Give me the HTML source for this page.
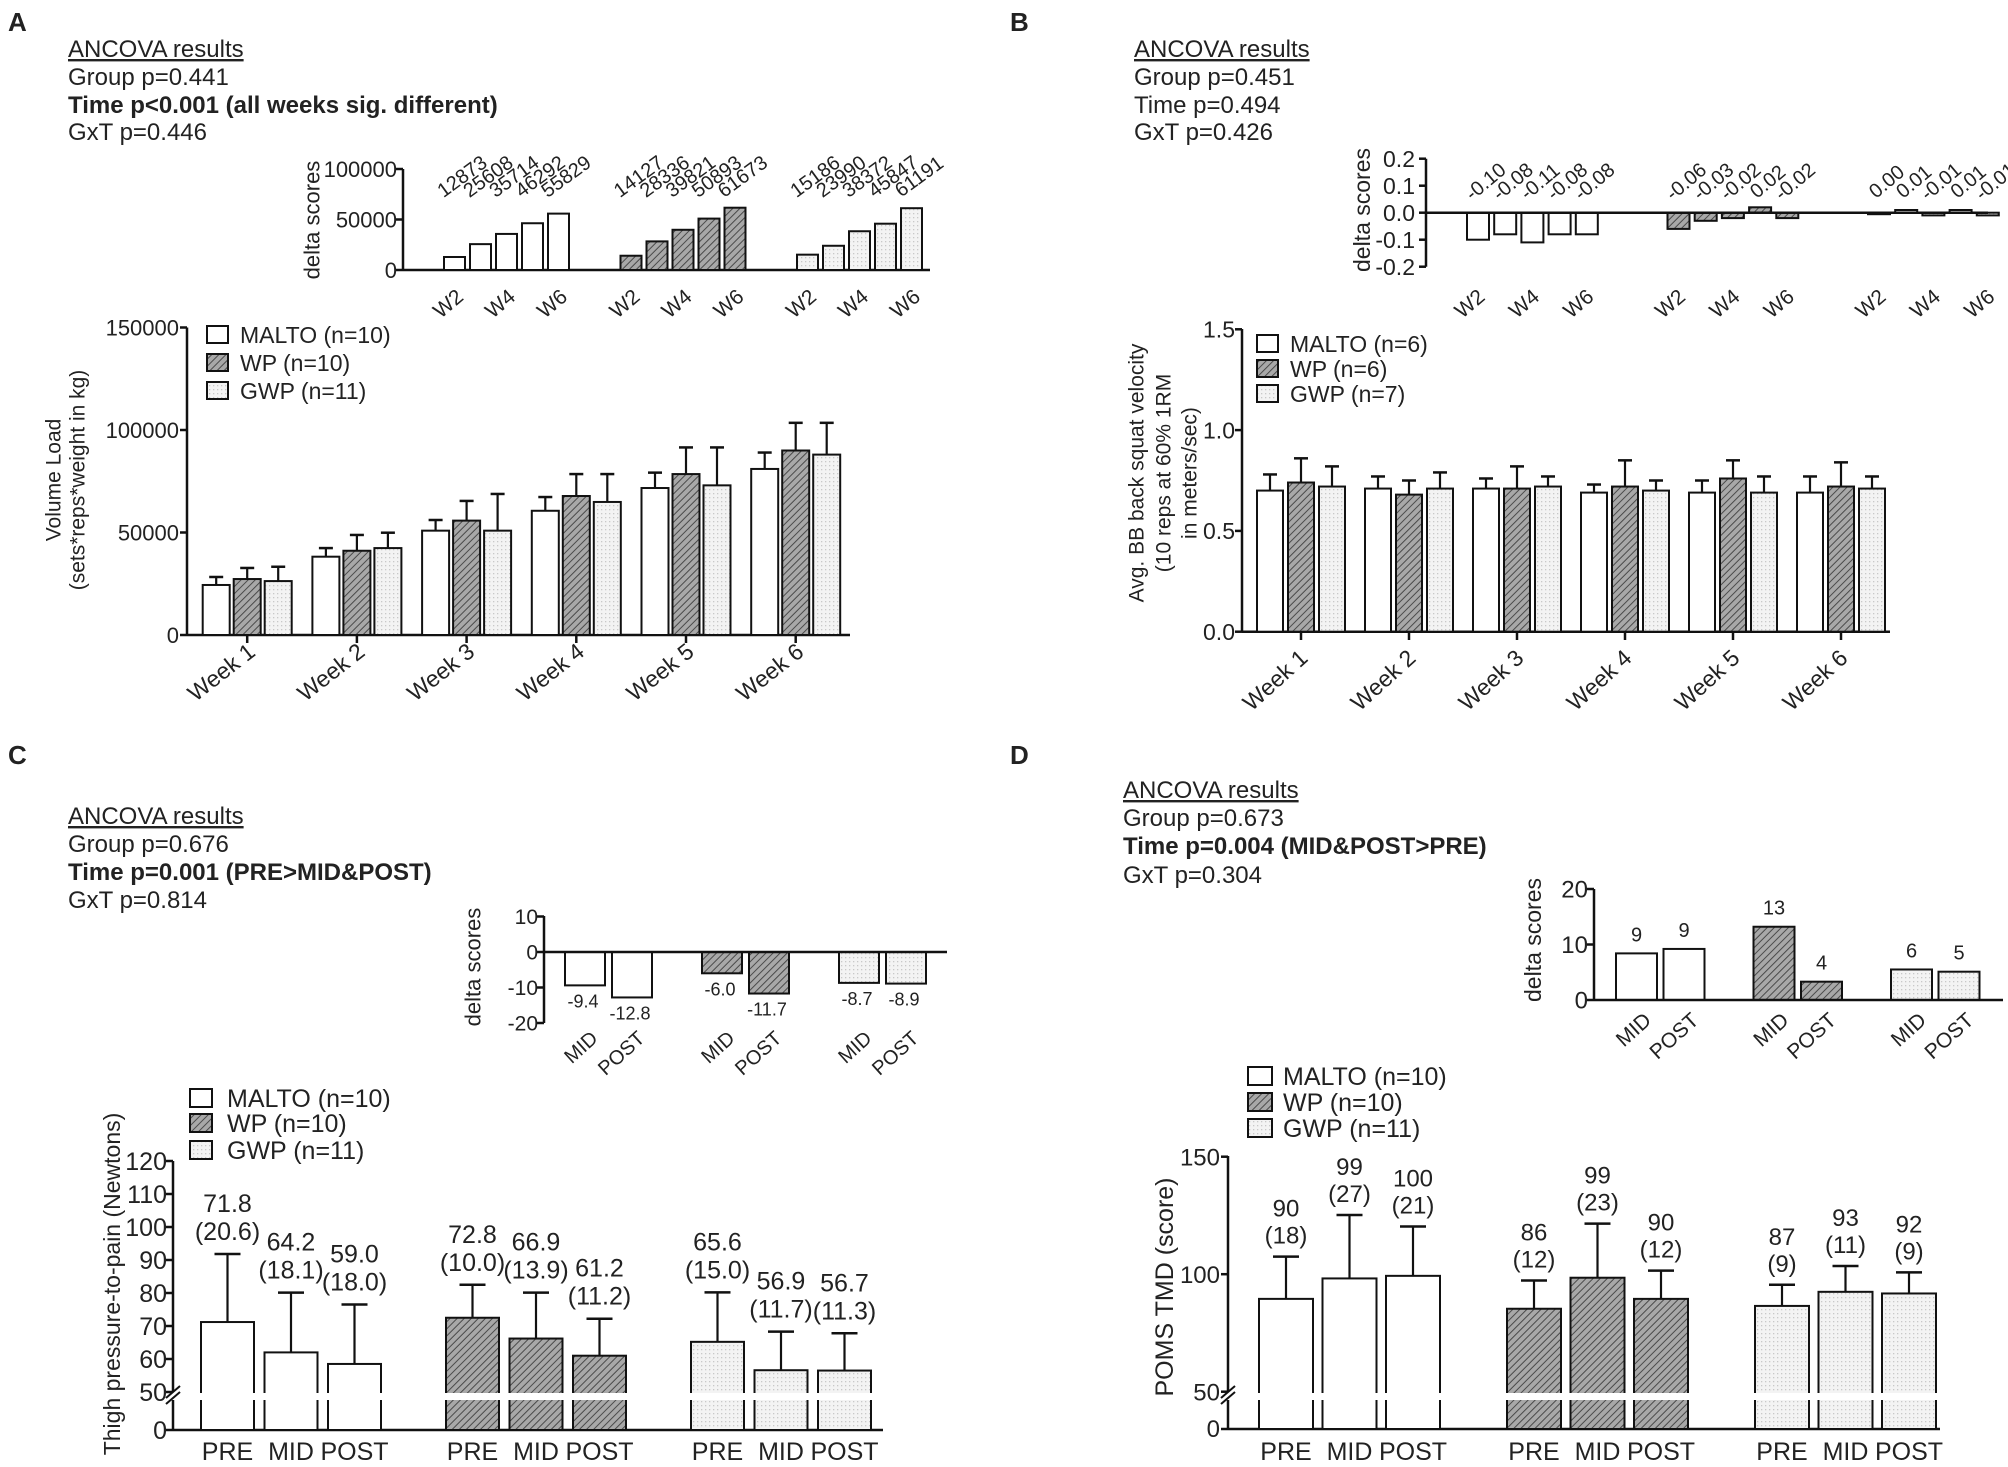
<!DOCTYPE html>
<html><head><meta charset="utf-8">
<style>
html,body{margin:0;padding:0;background:#fff;}
svg{display:block;font-family:"Liberation Sans",Arial,sans-serif;}
</style></head>
<body>
<svg id="fig" xmlns="http://www.w3.org/2000/svg" width="2008" height="1467" viewBox="0 0 2008 1467">
<defs>
<pattern id="hatch" patternUnits="userSpaceOnUse" width="5" height="5" patternTransform="rotate(45)">
<rect width="5" height="5" fill="#a8a8a8"/>
<line x1="0" y1="0" x2="0" y2="5" stroke="#4a4a4a" stroke-width="2"/>
</pattern>
<pattern id="dots" patternUnits="userSpaceOnUse" width="4" height="4">
<rect width="4" height="4" fill="#f3f3f3"/>
<rect x="1" y="1" width="1.3" height="1.3" fill="#c8c8c8"/>
</pattern>
</defs>
<rect x="0" y="0" width="2008" height="1467" fill="#fff"/>

<g font-size="24" fill="#222">
<text x="8" y="31" font-size="26" font-weight="bold">A</text>
<text x="68" y="57" text-decoration="underline">ANCOVA results</text>
<text x="68" y="85">Group p=0.441</text>
<text x="68" y="113" font-weight="bold">Time p&lt;0.001 (all weeks sig. different)</text>
<text x="68" y="140">GxT p=0.446</text>
</g>
<g font-size="24" fill="#222">
<text x="1010" y="31" font-size="26" font-weight="bold">B</text>
<text x="1134" y="57" text-decoration="underline">ANCOVA results</text>
<text x="1134" y="85">Group p=0.451</text>
<text x="1134" y="113">Time p=0.494</text>
<text x="1134" y="140">GxT p=0.426</text>
</g>
<g font-size="24" fill="#222">
<text x="8" y="764" font-size="26" font-weight="bold">C</text>
<text x="68" y="824" text-decoration="underline">ANCOVA results</text>
<text x="68" y="852">Group p=0.676</text>
<text x="68" y="880" font-weight="bold">Time p=0.001 (PRE&gt;MID&amp;POST)</text>
<text x="68" y="908">GxT p=0.814</text>
</g>
<g font-size="24" fill="#222">
<text x="1010" y="764" font-size="26" font-weight="bold">D</text>
<text x="1123" y="798" text-decoration="underline">ANCOVA results</text>
<text x="1123" y="826">Group p=0.673</text>
<text x="1123" y="854" font-weight="bold">Time p=0.004 (MID&amp;POST&gt;PRE)</text>
<text x="1123" y="883">GxT p=0.304</text>
</g>

<g font-size="23" fill="#222">
<rect x="207" y="326" width="21" height="17" fill="#fff" stroke="#111" stroke-width="2"/>
<text x="240" y="343">MALTO (n=10)</text>
<rect x="207" y="354" width="21" height="17" fill="url(#hatch)" stroke="#111" stroke-width="2"/>
<text x="240" y="371">WP (n=10)</text>
<rect x="207" y="382" width="21" height="17" fill="url(#dots)" stroke="#111" stroke-width="2"/>
<text x="240" y="399">GWP (n=11)</text>
</g>
<g font-size="23" fill="#222">
<rect x="1257" y="335" width="21" height="17" fill="#fff" stroke="#111" stroke-width="2"/>
<text x="1290" y="352">MALTO (n=6)</text>
<rect x="1257" y="360" width="21" height="17" fill="url(#hatch)" stroke="#111" stroke-width="2"/>
<text x="1290" y="377">WP (n=6)</text>
<rect x="1257" y="385" width="21" height="17" fill="url(#dots)" stroke="#111" stroke-width="2"/>
<text x="1290" y="402">GWP (n=7)</text>
</g>
<g font-size="25" fill="#222">
<rect x="190" y="1089" width="22" height="18" fill="#fff" stroke="#111" stroke-width="2"/>
<text x="227" y="1107">MALTO (n=10)</text>
<rect x="190" y="1114" width="22" height="18" fill="url(#hatch)" stroke="#111" stroke-width="2"/>
<text x="227" y="1132">WP (n=10)</text>
<rect x="190" y="1141" width="22" height="18" fill="url(#dots)" stroke="#111" stroke-width="2"/>
<text x="227" y="1159">GWP (n=11)</text>
</g>
<g font-size="25" fill="#222">
<rect x="1248" y="1067" width="24" height="18" fill="#fff" stroke="#111" stroke-width="2"/>
<text x="1283" y="1085">MALTO (n=10)</text>
<rect x="1248" y="1093" width="24" height="18" fill="url(#hatch)" stroke="#111" stroke-width="2"/>
<text x="1283" y="1111">WP (n=10)</text>
<rect x="1248" y="1119" width="24" height="18" fill="url(#dots)" stroke="#111" stroke-width="2"/>
<text x="1283" y="1137">GWP (n=11)</text>
</g>
</svg>

<script>
// ---------- Panel A data ----------
const aWeeks = ['Week 1','Week 2','Week 3','Week 4','Week 5','Week 6'];
const aMaltoMean = [24400, 38200, 50900, 60600, 71700, 81000];
const aMaltoSD   = [3900, 4200, 5200, 6700, 7500, 8000];
const aWpMean    = [27300, 41100, 55800, 67800, 78500, 90000];
const aWpSD      = [5400, 7700, 9600, 10700, 13000, 13500];
const aGwpMean   = [26300, 42400, 50900, 64900, 73000, 88000];
const aGwpSD     = [7000, 7500, 17900, 13600, 18500, 15500];
const aTicks = [0, 50000, 100000, 150000];
const aTickLabels = ['0','50000','100000','150000'];
const aDeltaWeeks = ['W2','W3','W4','W5','W6'];
const aDeltaMalto = [12873, 25608, 35714, 46292, 55829];
const aDeltaWp    = [14127, 28336, 39821, 50893, 61673];
const aDeltaGwp   = [15186, 23990, 38372, 45847, 61191];
const aDeltaTicks = [0, 50000, 100000];
const aDeltaTickLabels = ['0','50000','100000'];

// ---------- Panel B data ----------
const bWeeks = ['Week 1','Week 2','Week 3','Week 4','Week 5','Week 6'];
const bMaltoMean = [0.70, 0.71, 0.71, 0.69, 0.69, 0.69];
const bMaltoSD   = [0.08, 0.06, 0.05, 0.04, 0.06, 0.08];
const bWpMean    = [0.74, 0.68, 0.71, 0.72, 0.76, 0.72];
const bWpSD      = [0.12, 0.07, 0.11, 0.13, 0.09, 0.12];
const bGwpMean   = [0.72, 0.71, 0.72, 0.70, 0.69, 0.71];
const bGwpSD     = [0.10, 0.08, 0.05, 0.05, 0.08, 0.06];
const bTicks = [0, 0.5, 1.0, 1.5];
const bTickLabels = ['0.0','0.5','1.0','1.5'];
const bDeltaWeeks = ['W2','W3','W4','W5','W6'];
const bDeltaMalto = [-0.10, -0.08, -0.11, -0.08, -0.08];
const bDeltaWp    = [-0.06, -0.03, -0.02, 0.02, -0.02];
const bDeltaGwp   = [0.00, 0.01, -0.01, 0.01, -0.01];
const bDeltaMaltoLabels = ['-0.10','-0.08','-0.11','-0.08','-0.08'];
const bDeltaWpLabels    = ['-0.06','-0.03','-0.02','0.02','-0.02'];
const bDeltaGwpLabels   = ['0.00','0.01','-0.01','0.01','-0.01'];
const bDeltaTicks = [0.2, 0.1, 0, -0.1, -0.2];
const bDeltaTickLabels = ['0.2','0.1','0.0','-0.1','-0.2'];

// ---------- Panel C data ----------
const cTimes = ['PRE','MID','POST'];
const cMaltoBar = [71.2, 62.0, 58.5];
const cWpBar    = [72.5, 66.2, 61.0];
const cGwpBar   = [65.2, 56.6, 56.5];
const cMaltoMeanLbl = ['71.8','64.2','59.0'];
const cWpMeanLbl    = ['72.8','66.9','61.2'];
const cGwpMeanLbl   = ['65.6','56.9','56.7'];
const cMaltoSD = [20.6, 18.1, 18.0];
const cWpSD    = [10.0, 13.9, 11.2];
const cGwpSD   = [15.0, 11.7, 11.3];
const cTicks = [50, 60, 70, 80, 90, 100, 110, 120];
const cDeltaTimes = ['MID','POST'];
const cDeltaMalto = [-9.4, -12.8];
const cDeltaWp    = [-6.0, -11.7];
const cDeltaGwp   = [-8.7, -8.9];
const cDeltaTicks = [10, 0, -10, -20];

// ---------- Panel D data ----------
const dTimes = ['PRE','MID','POST'];
const dMaltoBar = [89.5, 98.2, 99.3];
const dWpBar    = [85.3, 98.5, 89.5];
const dGwpBar   = [86.5, 92.5, 91.8];
const dMaltoMeanLbl = ['90','99','100'];
const dWpMeanLbl    = ['86','99','90'];
const dGwpMeanLbl   = ['87','93','92'];
const dMaltoSD = [18, 27, 21];
const dWpSD    = [12, 23, 12];
const dGwpSD   = [9, 11, 9];
const dTicks = [50, 100, 150];
const dDeltaTimes = ['MID','POST'];
const dDeltaMalto = [8.4, 9.2];
const dDeltaWp    = [13.2, 3.3];
const dDeltaGwp   = [5.5, 5.1];
const dDeltaLabels = [['9','9'],['13','4'],['6','5']];
const dDeltaTicks = [0, 10, 20];

// ---------- helpers ----------
const NS = 'http://www.w3.org/2000/svg';
const svg = document.getElementById('fig');
const FILLS = ['#fff', 'url(#hatch)', 'url(#dots)'];
const SER = ['malto','wp','gwp'];
function mk(tag, attrs, parent) {
  const e = document.createElementNS(NS, tag);
  for (const k in attrs) e.setAttribute(k, attrs[k]);
  (parent || svg).appendChild(e);
  return e;
}
function txt(x, y, s, attrs, parent) {
  const e = mk('text', Object.assign({x: x, y: y, fill: '#222'}, attrs), parent);
  e.textContent = s;
  return e;
}
function group(name) {
  const g = mk('g', {});
  
  
  return g;
}
function line(x1, y1, x2, y2, sw, parent, name) {
  const e = mk('line', {x1: x1, y1: y1, x2: x2, y2: y2, stroke: '#111', 'stroke-width': sw}, parent);
  
  
  return e;
}
function yAxis(parent, x, yTop, yBot, ticks, labels, yf, labelX, fs, name) {
  line(x, yTop, x, yBot, 2.5, parent, name + '-line');
  ticks.forEach(function (t, i) {
    const y = yf(t);
    line(x - 7, y, x, y, 2.5, parent, name + '-tick');
    const lb = txt(labelX, y + fs * 0.36, labels[i], {'text-anchor': 'end', 'font-size': fs}, parent);
    
    
  });
}
function rotLabel(parent, cx, cy, s, fs, ang, name, anchor) {
  const e = txt(cx, cy, s, {'text-anchor': anchor || 'middle', 'dominant-baseline': anchor ? 'auto' : 'central', 'font-size': fs, transform: 'rotate(' + ang + ' ' + cx + ' ' + cy + ')'}, parent);
  
  
  return e;
}
function bar(parent, x, w, yTopPx, yBasePx, fill, name) {
  const y = Math.min(yTopPx, yBasePx), h = Math.abs(yBasePx - yTopPx);
  const r = mk('rect', {x: x, y: y, width: w, height: Math.max(h, 1.5), fill: fill, stroke: '#111', 'stroke-width': 2}, parent);
  
  
  return r;
}
function errBar(parent, cx, yFrom, yTo, cap, name) {
  line(cx, yFrom, cx, yTo, 2.2, parent, name + '-stem');
  line(cx - cap / 2, yTo, cx + cap / 2, yTo, 2.5, parent, name + '-cap');
}

// ================= Panel A main =================
(function () {
  const g = group('panel-a-main-chart');
  const y = function (v) { return 635 - v * (307.5 / 150000); };
  const x = function (gi, si) { return 202.7 + gi * 109.7 + si * 31; };
  const bw = 27;
  const means = [aMaltoMean, aWpMean, aGwpMean], sds = [aMaltoSD, aWpSD, aGwpSD];
  yAxis(g, 187, 327.5, 635, aTicks, aTickLabels, y, 179, 22, 'panel-a-y-axis');
  line(187, 635, 850, 635, 2.5, g, 'panel-a-x-axis');
  aWeeks.forEach(function (wk, gi) {
    for (let si = 0; si < 3; si++) {
      const v = means[si][gi];
      bar(g, x(gi, si), bw, y(v), 635, FILLS[si], 'bar-' + SER[si] + '-week' + (gi + 1));
      errBar(g, x(gi, si) + bw / 2, y(v), y(v + sds[si][gi]), 14, 'error-' + SER[si] + '-week' + (gi + 1));
    }
    const tc = x(gi, 1) + bw / 2;
    line(tc, 635, tc, 643, 2.5, g, 'panel-a-x-tick');
    rotLabel(g, tc - 26, 672, wk, 23, -38, 'panel-a-x-label');
  });
  rotLabel(g, 54, 480, 'Volume Load', 21, -90, 'panel-a-y-title-line1');
  rotLabel(g, 78, 480, '(sets*reps*weight in kg)', 21, -90, 'panel-a-y-title-line2');
})();

// ================= Panel A delta =================
(function () {
  const g = group('panel-a-delta-chart');
  const y = function (v) { return 270 - v * (101 / 100000); };
  const x = function (gi, bi) { return 444 + gi * 176.5 + bi * 26; };
  const bw = 21;
  const data = [aDeltaMalto, aDeltaWp, aDeltaGwp];
  yAxis(g, 403, 169, 270, aDeltaTicks, aDeltaTickLabels, y, 397, 22, 'panel-a-delta-y-axis');
  line(403, 270, 930, 270, 2.5, g, 'panel-a-delta-baseline');
  data.forEach(function (arr, gi) {
    arr.forEach(function (v, bi) {
      bar(g, x(gi, bi), bw, y(v), y(0), FILLS[gi], 'delta-bar-' + SER[gi] + '-' + aDeltaWeeks[bi].toLowerCase());
      rotLabel(g, x(gi, bi) + bw / 2 + 8, 177, String(v), 20, -36, 'delta-value-label');
      if (bi % 2 === 0) rotLabel(g, x(gi, bi) + bw / 2 - 6, 304, aDeltaWeeks[bi], 21, -40, 'delta-x-label');
    });
  });
  rotLabel(g, 312, 220, 'delta scores', 22, -90, 'panel-a-delta-y-title');
})();

// ================= Panel B main =================
(function () {
  const g = group('panel-b-main-chart');
  const y = function (v) { return 631.7 - v * 201.6; };
  const x = function (gi, si) { return 1257 + gi * 108 + si * 31; };
  const bw = 26;
  const means = [bMaltoMean, bWpMean, bGwpMean], sds = [bMaltoSD, bWpSD, bGwpSD];
  yAxis(g, 1242, 329, 631.7, bTicks, bTickLabels, y, 1235, 23, 'panel-b-y-axis');
  line(1242, 631.7, 1890, 631.7, 2.5, g, 'panel-b-x-axis');
  bWeeks.forEach(function (wk, gi) {
    for (let si = 0; si < 3; si++) {
      const v = means[si][gi];
      bar(g, x(gi, si), bw, y(v), y(0), FILLS[si], 'bar-' + SER[si] + '-week' + (gi + 1));
      errBar(g, x(gi, si) + bw / 2, y(v), y(v + sds[si][gi]), 14, 'error-' + SER[si] + '-week' + (gi + 1));
    }
    const tc = x(gi, 1) + bw / 2;
    line(tc, 631.7, tc, 640, 2.5, g, 'panel-b-x-tick');
    rotLabel(g, tc - 26, 680, wk, 23, -42, 'panel-b-x-label');
  });
  rotLabel(g, 1137, 473, 'Avg. BB back squat velocity', 21, -90, 'panel-b-y-title-line1');
  rotLabel(g, 1164, 473, '(10 reps at 60% 1RM', 21, -90, 'panel-b-y-title-line2');
  rotLabel(g, 1190, 473, 'in meters/sec)', 21, -90, 'panel-b-y-title-line3');
})();

// ================= Panel B delta =================
(function () {
  const g = group('panel-b-delta-chart');
  const y = function (v) { return 212.7 - v * 270; };
  const x = function (gi, bi) { return 1467 + gi * 200.5 + bi * 27.2; };
  const bw = 22;
  const data = [bDeltaMalto, bDeltaWp, bDeltaGwp];
  const lbls = [bDeltaMaltoLabels, bDeltaWpLabels, bDeltaGwpLabels];
  yAxis(g, 1426, 158.7, 266.7, bDeltaTicks, bDeltaTickLabels, y, 1415, 23, 'panel-b-delta-y-axis');
  data.forEach(function (arr, gi) {
    arr.forEach(function (v, bi) {
      bar(g, x(gi, bi), bw, y(v), y(0), FILLS[gi], 'delta-bar-' + SER[gi] + '-' + bDeltaWeeks[bi].toLowerCase());
      rotLabel(g, x(gi, bi) + bw / 2 + 8, 182, lbls[gi][bi], 20, -40, 'delta-value-label');
      if (bi % 2 === 0) rotLabel(g, x(gi, bi) + bw / 2 - 8, 304, bDeltaWeeks[bi], 21, -40, 'delta-x-label');
    });
  });
  line(1426, 212.7, 1988, 212.7, 2.5, g, 'panel-b-delta-zero-line');
  rotLabel(g, 1362, 210, 'delta scores', 23, -90, 'panel-b-delta-y-title');
})();

// ================= Panel C main (broken axis) =================
(function () {
  const g = group('panel-c-main-chart');
  const y = function (v) { return 1392 - (v - 50) * 3.3; };
  const base = 1430;
  const x = function (gi, bi) { return 201 + gi * 245 + bi * 63.5; };
  const bw = 53;
  const bars = [cMaltoBar, cWpBar, cGwpBar], sds = [cMaltoSD, cWpSD, cGwpSD], lbl = [cMaltoMeanLbl, cWpMeanLbl, cGwpMeanLbl];
  yAxis(g, 173, 1161, 1392, cTicks, cTicks.map(String), y, 167, 25, 'panel-c-y-axis');
  line(173, 1400, 173, base, 2.5, g, 'panel-c-y-axis-lower');
  line(166, base, 173, base, 2.5, g, 'panel-c-y-zero-tick');
  const z = txt(167, base + 9, '0', {'text-anchor': 'end', 'font-size': 25}, g);
  
  
  line(166, 1398, 180, 1386, 2, g, 'panel-c-axis-break');
  line(166, 1404, 180, 1392, 2, g, 'panel-c-axis-break');
  line(173, base, 883, base, 2.5, g, 'panel-c-x-axis');
  bars.forEach(function (arr, gi) {
    arr.forEach(function (v, bi) {
      const bx = x(gi, bi);
      bar(g, bx, bw, y(v), base, FILLS[gi], 'bar-' + SER[gi] + '-' + cTimes[bi].toLowerCase());
      const gap = mk('rect', {x: bx - 2, y: 1393, width: bw + 4, height: 7, fill: '#fff'}, g);
      
      
      const et = y(v + sds[gi][bi]);
      errBar(g, bx + bw / 2, y(v), et, 26, 'error-' + SER[gi] + '-' + cTimes[bi].toLowerCase());
      const l1 = txt(bx + bw / 2, et - 42, lbl[gi][bi], {'text-anchor': 'middle', 'font-size': 25}, g);
      
      
      const l2 = txt(bx + bw / 2, et - 14, '(' + sds[gi][bi].toFixed(1) + ')', {'text-anchor': 'middle', 'font-size': 25}, g);
      
      
      const xl = txt(bx + bw / 2, 1460, cTimes[bi], {'text-anchor': 'middle', 'font-size': 25}, g);
      
      
    });
  });
  rotLabel(g, 112, 1284, 'Thigh pressure-to-pain (Newtons)', 23, -90, 'panel-c-y-title');
})();

// ================= Panel C delta =================
(function () {
  const g = group('panel-c-delta-chart');
  const y = function (v) { return 952 - v * 3.55; };
  const x = function (gi, bi) { return 565 + gi * 137 + bi * 47; };
  const bw = 40;
  const data = [cDeltaMalto, cDeltaWp, cDeltaGwp];
  yAxis(g, 544, 916, 1023, cDeltaTicks, cDeltaTicks.map(String), y, 538, 21, 'panel-c-delta-y-axis');
  data.forEach(function (arr, gi) {
    arr.forEach(function (v, bi) {
      const bx = x(gi, bi);
      bar(g, bx, bw, y(v), y(0), FILLS[gi], 'delta-bar-' + SER[gi] + '-' + cDeltaTimes[bi].toLowerCase());
      const vl = txt(bx + bw / 2 - 2, y(v) + 22, v.toFixed(1), {'text-anchor': 'middle', 'font-size': 18}, g);
      
      
      rotLabel(g, bx + bw / 2 + 14, 1040, cDeltaTimes[bi], 20, -42, 'delta-x-label', 'end');
    });
  });
  line(544, 952, 947, 952, 2.5, g, 'panel-c-delta-zero-line');
  rotLabel(g, 473, 967, 'delta scores', 22, -90, 'panel-c-delta-y-title');
})();

// ================= Panel D main (broken axis) =================
(function () {
  const g = group('panel-d-main-chart');
  const y = function (v) { return 1391.7 - (v - 50) * 2.35; };
  const base = 1429;
  const x = function (gi, bi) { return 1259 + gi * 248 + bi * 63.5; };
  const bw = 54;
  const bars = [dMaltoBar, dWpBar, dGwpBar], sds = [dMaltoSD, dWpSD, dGwpSD], lbl = [dMaltoMeanLbl, dWpMeanLbl, dGwpMeanLbl];
  yAxis(g, 1228, 1156, 1391.7, dTicks, dTicks.map(String), y, 1220, 24, 'panel-d-y-axis');
  line(1228, 1400, 1228, base, 2.5, g, 'panel-d-y-axis-lower');
  line(1221, base, 1228, base, 2.5, g, 'panel-d-y-zero-tick');
  const z = txt(1220, base + 8, '0', {'text-anchor': 'end', 'font-size': 24}, g);
  
  
  line(1221, 1398, 1235, 1386, 2, g, 'panel-d-axis-break');
  line(1221, 1404, 1235, 1392, 2, g, 'panel-d-axis-break');
  line(1228, base, 1940, base, 2.5, g, 'panel-d-x-axis');
  bars.forEach(function (arr, gi) {
    arr.forEach(function (v, bi) {
      const bx = x(gi, bi);
      bar(g, bx, bw, y(v), base, FILLS[gi], 'bar-' + SER[gi] + '-' + dTimes[bi].toLowerCase());
      const gap = mk('rect', {x: bx - 2, y: 1393, width: bw + 4, height: 7, fill: '#fff'}, g);
      
      
      const et = y(v + sds[gi][bi]);
      errBar(g, bx + bw / 2, y(v), et, 26, 'error-' + SER[gi] + '-' + dTimes[bi].toLowerCase());
      const l1 = txt(bx + bw / 2, et - 40, lbl[gi][bi], {'text-anchor': 'middle', 'font-size': 24}, g);
      
      
      const l2 = txt(bx + bw / 2, et - 13, '(' + sds[gi][bi] + ')', {'text-anchor': 'middle', 'font-size': 24}, g);
      
      
      const xl = txt(bx + bw / 2, 1460, dTimes[bi], {'text-anchor': 'middle', 'font-size': 25}, g);
      
      
    });
  });
  rotLabel(g, 1165, 1287, 'POMS TMD (score)', 25, -90, 'panel-d-y-title');
})();

// ================= Panel D delta =================
(function () {
  const g = group('panel-d-delta-chart');
  const y = function (v) { return 1000 - v * 5.55; };
  const x = function (gi, bi) { return 1616 + gi * 137.5 + bi * 47.5; };
  const bw = 41;
  const data = [dDeltaMalto, dDeltaWp, dDeltaGwp];
  yAxis(g, 1594, 889, 1000, dDeltaTicks, dDeltaTicks.map(String), y, 1588, 24, 'panel-d-delta-y-axis');
  data.forEach(function (arr, gi) {
    arr.forEach(function (v, bi) {
      const bx = x(gi, bi);
      bar(g, bx, bw, y(v), y(0), FILLS[gi], 'delta-bar-' + SER[gi] + '-' + dDeltaTimes[bi].toLowerCase());
      const vl = txt(bx + bw / 2, y(v) - 12, dDeltaLabels[gi][bi], {'text-anchor': 'middle', 'font-size': 20}, g);
      
      
      rotLabel(g, bx + bw / 2 + 16, 1022, dDeltaTimes[bi], 21, -42, 'delta-x-label', 'end');
    });
  });
  line(1594, 1000, 2003, 1000, 2.5, g, 'panel-d-delta-baseline');
  rotLabel(g, 1533, 940, 'delta scores', 23, -90, 'panel-d-delta-y-title');
})();
</script>
</body></html>
